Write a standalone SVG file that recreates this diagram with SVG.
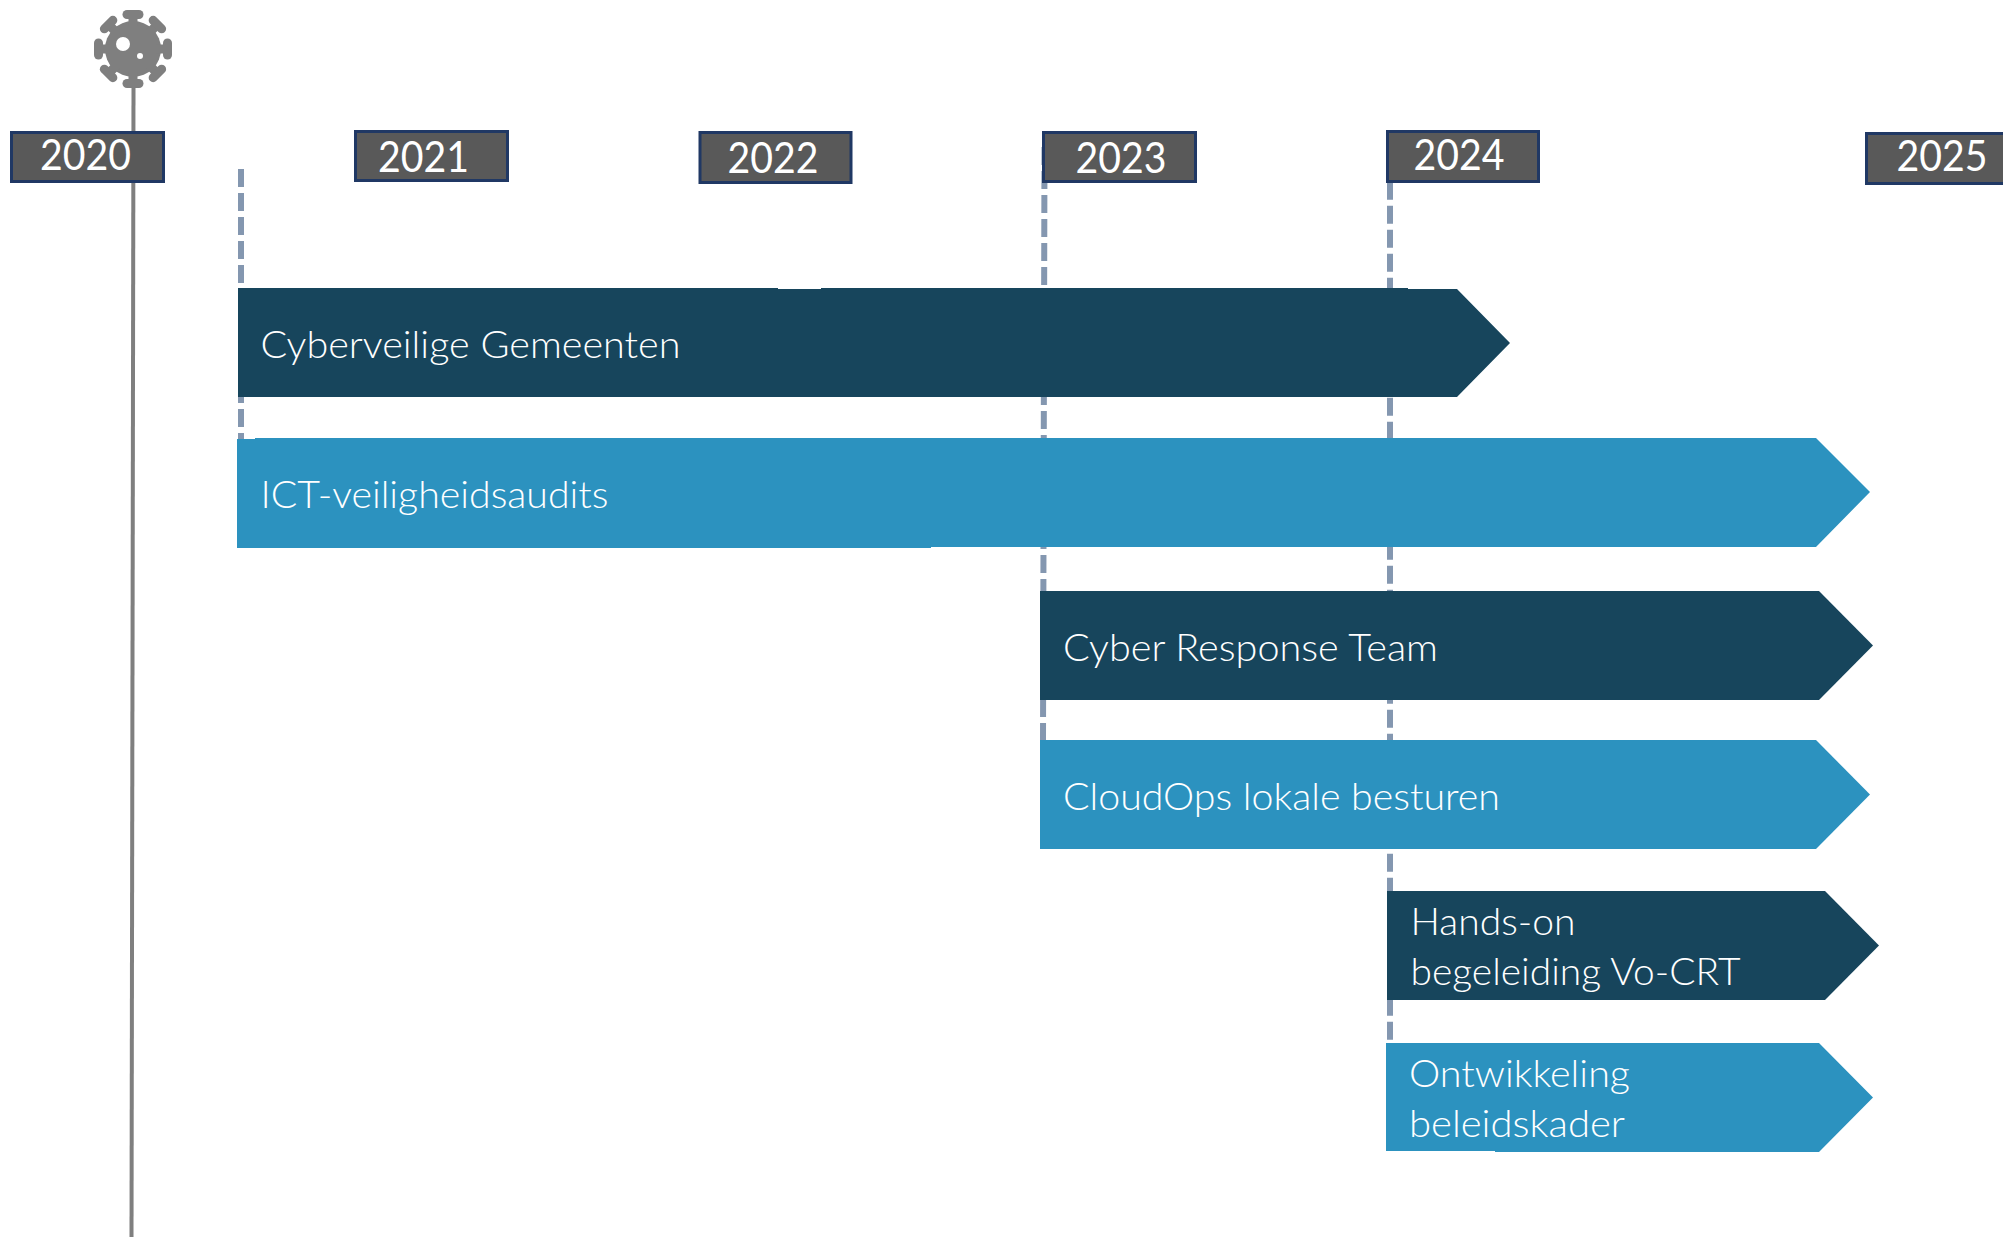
<svg xmlns="http://www.w3.org/2000/svg" xmlns:xlink="http://www.w3.org/1999/xlink" width="2003" height="1237" viewBox="0 0 2003 1237">
<style>
text{font-family:"Lato","Open Sans","Liberation Sans",sans-serif;fill:#fff;font-weight:300}
.year{font-size:43px;font-weight:400}
.bar{font-size:38px}
.yr{fill:#595959;stroke:#203864;stroke-width:3}
.dark{fill:#17455C}
.blue{fill:#2C92BF}
.dash{fill:none;stroke:#8497B0;stroke-width:6;stroke-dasharray:18 6}
.axis{fill:none;stroke:#7F7F7F;stroke-width:4}
.v{fill:#7F7F7F}
</style>
<defs>
<g id="spike"><rect class="v" x="-4.500" y="-35" width="9" height="12"/><rect class="v" x="-10.500" y="-39" width="21" height="9" rx="4.500"/></g>
</defs>
<rect width="2003" height="1237" fill="#fff"/>
<g id="connectors">
<path class="axis" d="M133.5 88L131.500 1237"/>
<path class="dash" d="M241 169V440"/>
<path class="dash" d="M1044.500 147L1043 740"/>
<path class="dash" d="M1390 157.700V1042"/>
</g>
<g id="virus">
<circle class="v" cx="133" cy="49" r="28"/>
<use xlink:href="#spike" href="#spike" transform="translate(133 49)"/>
<use xlink:href="#spike" href="#spike" transform="translate(133 49) rotate(45)"/>
<use xlink:href="#spike" href="#spike" transform="translate(133 49) rotate(90)"/>
<use xlink:href="#spike" href="#spike" transform="translate(133 49) rotate(135)"/>
<use xlink:href="#spike" href="#spike" transform="translate(133 49) rotate(180)"/>
<use xlink:href="#spike" href="#spike" transform="translate(133 49) rotate(225)"/>
<use xlink:href="#spike" href="#spike" transform="translate(133 49) rotate(270)"/>
<use xlink:href="#spike" href="#spike" transform="translate(133 49) rotate(315)"/>
<circle cx="123" cy="44" r="7" fill="#fff"/>
<circle cx="140" cy="56" r="3" fill="#fff"/>
</g>
<g id="year-2020"><rect class="yr" x="11.500" y="132.500" width="152" height="49"/><text class="year" x="40" y="170" textLength="91" lengthAdjust="spacingAndGlyphs">2020</text></g>
<g id="year-2021"><rect class="yr" x="355.500" y="131.500" width="152" height="49"/><text class="year" x="378" y="172" textLength="91" lengthAdjust="spacingAndGlyphs">2021</text></g>
<g id="year-2022"><rect class="yr" x="700" y="132.500" width="151" height="50"/><text class="year" x="727.500" y="173" textLength="91" lengthAdjust="spacingAndGlyphs">2022</text></g>
<g id="year-2023"><rect class="yr" x="1043.500" y="132.500" width="152" height="49"/><text class="year" x="1075.500" y="173" textLength="91" lengthAdjust="spacingAndGlyphs">2023</text></g>
<g id="year-2024"><rect class="yr" x="1387.500" y="131.500" width="151" height="50"/><text class="year" x="1413.500" y="170" textLength="91" lengthAdjust="spacingAndGlyphs">2024</text></g>
<g id="year-2025"><rect class="yr" x="1866.500" y="133.500" width="150" height="50"/><text class="year" x="1896.500" y="171" textLength="91" lengthAdjust="spacingAndGlyphs">2025</text></g>
<g id="cyberveilige-gemeenten"><polygon class="dark" points="238,288 778,288 778,289 821,289 821,288 1408,288 1408,289 1457,289 1510,343 1457,397 238,397"/><text class="bar" x="260.500" y="358" textLength="420" lengthAdjust="spacingAndGlyphs">Cyberveilige Gemeenten</text></g>
<g id="ict-veiligheidsaudits"><polygon class="blue" points="237,439 255,439 255,438 1816,438 1870,492 1816,547 931,547 931,548 237,548"/><text class="bar" x="260.500" y="508" textLength="348" lengthAdjust="spacingAndGlyphs">ICT-veiligheidsaudits</text></g>
<g id="cyber-response-team"><polygon class="dark" points="1040,591 1819,591 1873,645.500 1819,700 1040,700"/><text class="bar" x="1063" y="661" textLength="375" lengthAdjust="spacingAndGlyphs">Cyber Response Team</text></g>
<g id="cloudops-lokale-besturen"><polygon class="blue" points="1040,740 1816,740 1870,794.500 1816,849 1040,849"/><text class="bar" x="1063" y="810" textLength="437" lengthAdjust="spacingAndGlyphs">CloudOps lokale besturen</text></g>
<g id="hands-on-begeleiding"><polygon class="dark" points="1387,891 1825,891 1879,945.500 1825,1000 1387,1000"/><text class="bar" x="1410.500" y="935" textLength="165" lengthAdjust="spacingAndGlyphs">Hands-on</text><text class="bar" x="1410.500" y="985" textLength="330" lengthAdjust="spacingAndGlyphs">begeleiding Vo-CRT</text></g>
<g id="ontwikkeling-beleidskader"><polygon class="blue" points="1386,1043 1819,1043 1873,1097.500 1819,1152 1495,1152 1495,1151 1386,1151"/><text class="bar" x="1409" y="1087" textLength="221" lengthAdjust="spacingAndGlyphs">Ontwikkeling</text><text class="bar" x="1409" y="1137" textLength="216" lengthAdjust="spacingAndGlyphs">beleidskader</text></g>
</svg>
